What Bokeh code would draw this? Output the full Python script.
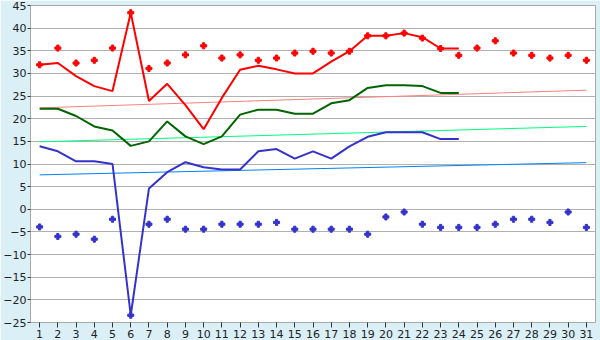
from bokeh.plotting import figure
from bokeh.models import FixedTicker, Range1d
from bokeh.embed import file_html
from bokeh.resources import INLINE

days = list(range(1, 32))

max_pts = [31.9, 35.6, 32.3, 32.9, 35.6, 43.4, 31.1, 32.3, 34.1, 36.1,
           33.4, 34.1, 32.9, 33.4, 34.5, 34.9, 34.5, 34.9, 38.3, 38.3,
           38.9, 37.8, 35.5, 34.0, 35.6, 37.2, 34.5, 34.0, 33.4, 34.0, 32.9]
min_pts = [-3.9, -6.0, -5.5, -6.6, -2.2, -23.4, -3.3, -2.2, -4.4, -4.4,
           -3.3, -3.3, -3.3, -2.9, -4.4, -4.4, -4.4, -4.4, -5.5, -1.7,
           -0.6, -3.3, -4.0, -4.0, -4.0, -3.3, -2.2, -2.2, -2.9, -0.6, -4.0]

line_days = list(range(1, 25))
max_line = [31.9, 32.3, 29.4, 27.2, 26.1, 43.4, 23.9, 27.7, 23.0, 17.7,
            24.6, 30.8, 31.7, 30.9, 30.0, 30.0, 32.6, 34.9, 38.3, 38.3,
            38.9, 38.0, 35.5, 35.5]
mean_line = [22.2, 22.2, 20.6, 18.3, 17.4, 14.0, 15.0, 19.4, 16.1, 14.4,
             16.1, 20.9, 22.0, 22.0, 21.1, 21.1, 23.4, 24.1, 26.8, 27.4,
             27.4, 27.2, 25.7, 25.7]
min_line = [13.9, 12.8, 10.6, 10.6, 10.0, -23.4, 4.6, 8.2, 10.4, 9.3,
            8.8, 8.8, 12.8, 13.3, 11.2, 12.8, 11.2, 13.9, 16.0, 17.0,
            17.0, 17.0, 15.5, 15.5]

trend_days = [1, 31]
max_trend = [22.4, 26.3]
mean_trend = [14.9, 18.3]
min_trend = [7.6, 10.3]

y_ticks = list(range(-25, 50, 5))

BG = "#daeff6"
FONT = "DejaVu Sans"

p = figure(width=600, height=340, output_backend="svg", toolbar_location=None,
           x_range=Range1d(0.5, 31.5), y_range=Range1d(-25, 45),
           min_border_left=20, min_border_right=5, min_border_top=5,
           min_border_bottom=15)
p.background_fill_color = "white"
p.border_fill_color = BG
p.outline_line_color = "#a8a8a8"
p.outline_line_width = 1

p.xgrid.grid_line_color = None
p.ygrid.grid_line_color = "#b0b0b0"
p.ygrid.grid_line_width = 1

p.xaxis.ticker = FixedTicker(ticks=days)
p.yaxis.ticker = FixedTicker(ticks=y_ticks)
for ax in (p.xaxis[0], p.yaxis[0]):
    ax.axis_line_color = None
    ax.minor_tick_line_color = None
    ax.major_tick_in = 0
    ax.major_tick_out = 3
    ax.major_tick_line_color = "#333333"
    ax.major_label_text_font = FONT
    ax.major_label_text_font_size = "11px"
    ax.major_label_text_color = "#222222"
p.xaxis.major_label_standoff = 2
p.yaxis.major_label_standoff = 1
p.xaxis.major_tick_out = 5

# trend lines
p.line(trend_days, max_trend, line_color="#ff8080", line_width=1)
p.line(trend_days, mean_trend, line_color="#00ff80", line_width=1)
p.line(trend_days, min_trend, line_color="#0080ff", line_width=1)

# main lines
p.line(line_days, mean_line, line_color="#006400", line_width=2)
p.line(line_days, min_line, line_color="#3333cc", line_width=2)
p.line(line_days, max_line, line_color="#ff0000", line_width=2)

# points
p.scatter(days, max_pts, marker="plus", size=6, color="#ff0000")
p.scatter(days, min_pts, marker="plus", size=6, color="#3333cc")

open("out.html", "w").write(file_html(p, INLINE))
